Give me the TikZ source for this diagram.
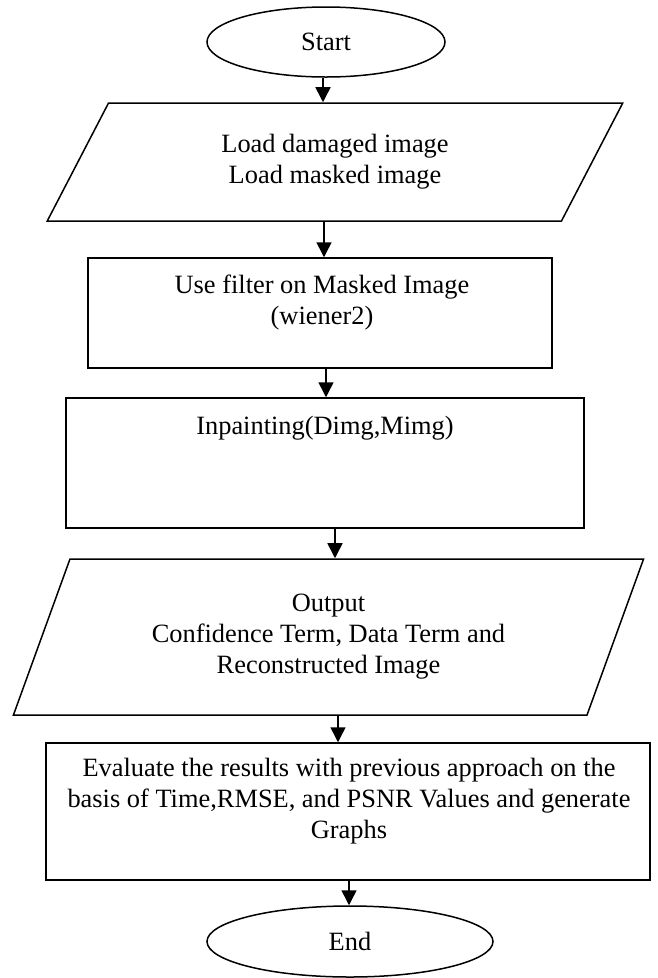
\documentclass[tikz,border=0pt]{standalone}
\usepackage{fontspec}
\setmainfont{Liberation Serif}
\usetikzlibrary{shapes.geometric,arrows.meta}
\begin{document}
\begin{tikzpicture}[x=1pt,y=-1pt,
  lw/.style={line width=1.5pt},
  lbl/.style={align=center, inner sep=0pt, font=\fontsize{26.4}{31}\selectfont},
  term/.style={ellipse, draw, lw, inner sep=0pt, font=\fontsize{26.4}{31}\selectfont},
  io/.style={trapezium, trapezium stretches=true, draw, lw, inner sep=0pt, align=center, font=\fontsize{26.4}{31}\selectfont},
  proc/.style={rectangle, draw, lw, inner sep=0pt},
  arr/.style={lw, -{Triangle[width=15pt,length=15pt]}}]
\useasboundingbox (0,0) rectangle (657,978);
\fill[white] (0,0) rectangle (657,978);
\node[term, minimum width=238pt, minimum height=70pt] (start) at (326,42) {Start};
\node[io, trapezium left angle=60.8, trapezium right angle=119.2, minimum width=578pt, minimum height=118pt] (load) at (335,162) {Load damaged image\\Load masked image};
\node[proc, minimum width=464pt, minimum height=110pt] (filt) at (320,313) {};
\node[lbl] (filtT) at (322,303) {Use filter on Masked Image\\(wiener2)};
\node[proc, minimum width=518pt, minimum height=130pt] (inp) at (325,463) {};
\node[lbl] (inpT) at (325,428) {Inpainting(Dimg,Mimg)};
\node[io, trapezium left angle=65.6, trapezium right angle=114.4, minimum width=631pt, minimum height=156pt] (out) at (328.5,637) {Output\\Confidence Term, Data Term and\\Reconstructed Image};
\node[proc, minimum width=604pt, minimum height=137pt] (eval) at (348,811.5) {};
\node[lbl] (evalT) at (349,801) {Evaluate the results with previous approach on the\\basis of Time,RMSE, and PSNR Values and generate\\Graphs};
\node[term, minimum width=286pt, minimum height=71pt] (end) at (350,941.5) {End};
\coordinate (a1) at (323,0);
\coordinate (a2) at (324,0);
\coordinate (a3) at (326,0);
\coordinate (a4) at (335,0);
\coordinate (a5) at (338,0);
\coordinate (a6) at (349,0);
\draw[arr] (a1 |- start.south) -- (a1 |- load.north);
\draw[arr] (a2 |- load.south) -- (a2 |- filt.north);
\draw[arr] (a3 |- filt.south) -- (a3 |- inp.north);
\draw[arr] (a4 |- inp.south) -- (a4 |- out.north);
\draw[arr] (a5 |- out.south) -- (a5 |- eval.north);
\draw[arr] (a6 |- eval.south) -- (a6 |- end.north);
\end{tikzpicture}
\end{document}
